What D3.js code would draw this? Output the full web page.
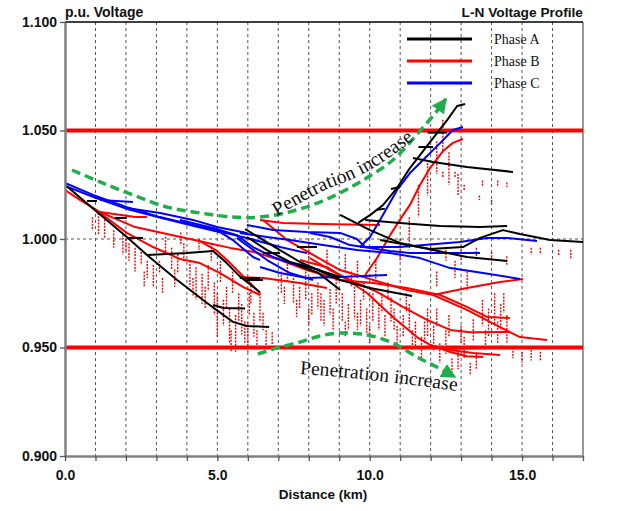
<!DOCTYPE html>
<html>
<head>
<meta charset="utf-8">
<script src="https://cdn.jsdelivr.net/npm/d3@7"></script>
<style>
  body { margin: 0; background: #fff; }
  svg { display: block; font-family: 'Liberation Sans', Arial, sans-serif; }
  .serif { font-family: 'Liberation Serif', 'Times New Roman', serif; }
</style>
</head>
<body>
<div id="chart-area"></div>
<script>
// set margins, width/height
const margin = { left: 65, right: 40, top: 22, bottom: 55 };
const width = 623 - margin.left - margin.right;
const height = 511 - margin.top - margin.bottom;

// axis values
const yTicks = [0.9, 0.95, 1.0, 1.05, 1.1];
const xLabels = [0, 5, 10, 15];
const kmTicks = [0, 1, 2, 3, 4, 5, 6, 7, 8, 9, 10, 11, 12, 13, 14, 15, 16, 17];
const limits = [0.95, 1.05];

const phaseNames = ['Phase A', 'Phase B', 'Phase C'];
const phaseColors = ['#000000', '#ff0000', '#0000ff'];

// feeder branches, [km, p.u.]
const phaseA = [
  [[0, 1.025], [1.05, 1.0124], [2.03, 1.0009], [2.69, 0.9926], [3.68, 0.9811], [4.66, 0.9705], [5.51, 0.9618], [5.97, 0.9599], [6.7, 0.9594]],
  [[4.86, 0.9696], [5.2, 0.9682], [5.91, 0.968]],
  [[2.69, 0.9926], [4.0, 0.9935], [4.86, 0.9945], [5.3, 0.989], [5.73, 0.9829], [6.4, 0.9755]],
  [[5.97, 0.9811], [6.5, 0.9811]],
  [[0.72, 1.0175], [1.05, 1.0175]],
  [[1.64, 1.0097], [2.03, 1.0097]],
  [[2.07, 1.0005], [2.56, 1.0005]],
  [[5.74, 0.982], [6.4, 0.982]],
  [[5.91, 1.0046], [6.89, 0.9963], [7.71, 0.9894], [9.03, 0.9811], [10.01, 0.9774], [11.39, 0.9737]],
  [[5.97, 1.0009], [6.63, 0.9949], [7.38, 0.9894], [8.14, 0.9866], [9.03, 0.9825]],
  [[7.61, 0.988], [8.3, 0.9845], [9.03, 0.9765]],
  [[6.5, 0.9935], [7.06, 0.9935]],
  [[7.61, 0.9963], [8.27, 0.9963]],
  [[9.03, 1.0111], [10.01, 1.0041], [10.99, 0.9982], [12.08, 0.9949], [13.19, 0.9917], [14.51, 0.9899]],
  [[9.62, 1.0074], [10.01, 1.011], [10.44, 1.0157], [10.9, 1.0236], [11.32, 1.0327], [11.65, 1.0387], [12.08, 1.0465], [12.54, 1.0548], [12.87, 1.0613], [13.13, 1.0622]],
  [[10.2, 1.0134], [10.5, 1.014]],
  [[10.7, 1.023], [11.0, 1.024]],
  [[11.6, 1.0424], [12.08, 1.0424]],
  [[11.9, 1.049], [12.54, 1.049]],
  [[11.42, 1.0373], [12.08, 1.0355], [13.19, 1.0332], [14.7, 1.0309]],
  [[9.85, 1.0088], [10.99, 1.0074], [12.31, 1.006], [13.62, 1.0055], [14.51, 1.006]],
  [[10.34, 0.9995], [11.98, 0.9954], [13.06, 0.9963], [13.62, 1.0005], [14.37, 1.0041], [14.93, 1.0023], [15.92, 0.9995], [17.0, 0.9986]]
];

const phaseB = [
  [[0, 1.0226], [0.49, 1.018], [1.15, 1.0124], [2.3, 1.0055], [3.35, 1.0023], [4.43, 0.999], [5.42, 0.9959], [6.2, 0.994], [7.06, 0.9903], [7.94, 0.9857]],
  [[1.15, 1.0124], [2.3, 1.0101], [2.69, 1.0101]],
  [[1.15, 1.012], [2.03, 1.0028], [2.89, 0.9963], [3.77, 0.9908], [4.43, 0.9889], [5.09, 0.9843], [5.84, 0.9779], [6.4, 0.9742]],
  [[4.43, 0.999], [4.99, 0.9945], [5.42, 0.9889], [5.97, 0.9811], [6.4, 0.9751]],
  [[5.74, 0.9825], [6.5, 0.982], [7.71, 0.9797], [8.6, 0.9774]],
  [[6.4, 1.0088], [7.15, 1.0074], [8.37, 1.0069], [10.34, 1.0065]],
  [[6.5, 1.0088], [7.29, 0.9995], [8.27, 0.9917], [9.03, 0.9857], [9.58, 0.9834], [10.44, 0.9797], [11.22, 0.9765], [12.08, 0.9742], [13.19, 0.9673], [14.28, 0.9594], [14.93, 0.9548], [15.82, 0.9535]],
  [[12.08, 0.9742], [13.19, 0.9774], [14.28, 0.9802], [15.03, 0.9816]],
  [[8.04, 0.9912], [8.7, 0.9857], [9.35, 0.9811], [10.24, 0.9756], [11.09, 0.9687], [11.88, 0.9627], [12.64, 0.9581], [13.3, 0.957], [14.6, 0.9571]],
  [[7.94, 0.9857], [9.03, 0.9811], [10.11, 0.9797], [11.22, 0.9774], [12.31, 0.9742], [13.19, 0.9687], [13.85, 0.9641], [14.6, 0.9636]],
  [[7.71, 0.9903], [8.6, 0.987], [9.12, 0.9825], [9.91, 0.9751], [10.76, 0.9641], [11.55, 0.9548], [11.98, 0.9512], [12.64, 0.9488], [13.39, 0.9475], [14.28, 0.9465]],
  [[11.98, 0.9512], [12.64, 0.9479], [13.19, 0.946], [13.72, 0.9456]],
  [[12.0, 0.95], [13.0, 0.9495], [14.0, 0.9498], [14.37, 0.9505]],
  [[9.85, 0.9834], [10.24, 0.9912], [10.67, 1.0018], [10.99, 1.0088], [11.32, 1.0157], [11.65, 1.0249], [11.98, 1.0327], [12.41, 1.0406], [12.73, 1.0443], [13.06, 1.0461]]
];

const phaseC = [
  [[0, 1.0258], [0.92, 1.0203], [2.03, 1.0147], [3.12, 1.0101], [4.2, 1.0065], [4.99, 1.0041], [5.51, 0.9995], [6.17, 0.9917], [6.4, 0.9903]],
  [[0, 1.0245], [1.0, 1.019], [2.1, 1.0136], [3.2, 1.0095], [4.3, 1.0058], [5.2, 1.0028]],
  [[1.15, 1.018], [2.23, 1.0171]],
  [[2.03, 1.0143], [3.12, 1.012], [4.2, 1.0088], [4.99, 1.0055], [5.97, 1.0028]],
  [[3.77, 1.0088], [4.86, 1.0051], [5.64, 1.0018], [6.17, 0.9963], [6.83, 0.9917], [7.38, 0.9889], [8.37, 0.9857]],
  [[4.86, 1.0041], [5.97, 1.0005], [7.06, 0.9963], [7.94, 0.9935]],
  [[5.64, 1.0005], [6.63, 0.9903], [7.38, 0.9843], [8.14, 0.9811]],
  [[5.97, 1.0065], [6.83, 1.0041], [7.94, 1.0032], [9.03, 1.0028], [9.58, 1.0], [9.85, 0.9963]],
  [[5.74, 1.0028], [6.63, 1.0009], [7.38, 0.9995], [8.47, 0.9972], [9.58, 0.9949], [10.67, 0.9935], [11.65, 0.9912], [12.64, 0.9866], [13.72, 0.9843], [14.93, 0.9816]],
  [[6.4, 0.9871], [7.06, 0.9843], [7.94, 0.982], [9.03, 0.9825], [10.57, 0.9834]],
  [[8.04, 1.0028], [8.7, 1.0009], [9.35, 0.9972], [10.01, 0.9959], [10.67, 0.9945], [11.32, 0.9935], [12.31, 0.9935], [13.62, 0.9935]],
  [[9.68, 0.9963], [10.99, 0.9963], [12.96, 0.9986], [13.85, 1.0005], [14.51, 1.0005], [15.49, 0.9991]],
  [[9.68, 0.9963], [10.01, 1.0009], [10.34, 1.0088], [10.9, 1.0226], [11.32, 1.0304], [11.75, 1.0364], [12.31, 1.0442], [12.73, 1.0502], [13.06, 1.0516]]
];

// dotted customer drops of phase B, [km, top p.u., bottom p.u.]
const redDrops = [
  [0.9, 1.01, 1.004], [1.1, 1.012, 1.002], [1.3, 1.009, 1.0], [1.6, 1.004, 0.996], [2.0, 1.0, 0.994],
  [1.9, 1.002, 0.993], [2.1, 0.998, 0.99], [2.3, 0.996, 0.985], [2.5, 0.994, 0.988], [2.7, 0.99, 0.982],
  [2.6, 0.985, 0.978], [3.2, 0.982, 0.975],
  [2.9, 0.988, 0.978], [3.1, 0.99, 0.984], [3.3, 1.001, 0.994],
  [3.5, 0.996, 0.986], [3.7, 0.993, 0.984], [3.9, 0.998, 0.99], [4.1, 0.99, 0.978], [4.3, 0.987, 0.972],
  [4.5, 0.984, 0.97], [4.7, 0.988, 0.976], [4.9, 0.98, 0.965], [4.6, 0.978, 0.968], [4.2, 0.982, 0.974], [3.6, 0.986, 0.978],
  [5.0, 0.975, 0.955], [5.2, 0.972, 0.96], [5.4, 0.968, 0.952], [5.6, 0.965, 0.948], [5.8, 0.97, 0.956],
  [6.0, 0.962, 0.948], [6.2, 0.966, 0.955], [6.4, 0.975, 0.962], [6.6, 0.958, 0.951], [6.8, 0.957, 0.951],
  [5.3, 0.978, 0.968], [5.7, 0.975, 0.962], [5.9, 0.962, 0.952], [6.3, 0.958, 0.95], [6.5, 0.966, 0.958],
  [5.45, 0.958, 0.948], [6.05, 0.975, 0.965],
  [5.1, 0.99, 0.98], [5.5, 0.985, 0.975], [6.1, 0.98, 0.97], [4.4, 1.0, 0.995], [3.8, 1.003, 0.997], [4.8, 0.998, 0.99],
  [7.1, 0.985, 0.975], [7.3, 0.99, 0.98], [7.5, 0.982, 0.97], [7.7, 0.978, 0.968], [7.9, 0.985, 0.972],
  [8.1, 0.975, 0.965], [8.3, 0.98, 0.968], [8.5, 0.972, 0.96], [8.7, 0.977, 0.965], [8.9, 0.983, 0.97],
  [9.1, 0.975, 0.962], [9.3, 0.97, 0.958], [9.5, 0.978, 0.963], [9.7, 0.972, 0.96], [9.9, 0.968, 0.956],
  [10.1, 0.975, 0.962], [10.3, 0.97, 0.958], [10.5, 0.965, 0.955], [10.7, 0.973, 0.962], [10.9, 0.96, 0.95],
  [7.2, 0.978, 0.97], [7.6, 0.972, 0.964], [8.0, 0.968, 0.96], [8.4, 0.975, 0.962], [8.8, 0.968, 0.958],
  [9.2, 0.962, 0.955], [9.6, 0.966, 0.958], [10.0, 0.96, 0.952], [10.4, 0.975, 0.966], [10.8, 0.968, 0.958],
  [9.4, 0.985, 0.978], [9.8, 0.98, 0.972], [10.6, 0.98, 0.972], [11.2, 0.975, 0.966],
  [8.0, 0.998, 0.99], [8.6, 0.995, 0.988], [9.2, 0.993, 0.985], [9.6, 0.99, 0.982], [10.2, 0.99, 0.98],
  [11.1, 0.965, 0.955], [11.3, 0.97, 0.958], [11.5, 0.962, 0.95], [11.7, 0.955, 0.945], [11.9, 0.968, 0.955],
  [12.1, 0.96, 0.948], [12.3, 0.952, 0.943], [12.5, 0.958, 0.947], [12.7, 0.945, 0.938], [12.9, 0.948, 0.94],
  [13.1, 0.955, 0.945], [13.3, 0.943, 0.937], [13.5, 0.947, 0.94],
  [11.4, 0.958, 0.949], [11.8, 0.962, 0.952], [12.2, 0.968, 0.96], [12.6, 0.965, 0.955], [13.0, 0.96, 0.952],
  [13.4, 0.963, 0.953], [13.8, 0.958, 0.95], [14.2, 0.962, 0.952], [14.4, 0.975, 0.966],
  [13.2, 0.985, 0.976], [12.8, 0.99, 0.982], [12.2, 0.985, 0.978],
  [13.7, 0.972, 0.96], [13.9, 0.968, 0.955], [14.1, 0.975, 0.96], [14.3, 0.97, 0.958], [14.5, 0.965, 0.952],
  [14.7, 0.95, 0.945], [15.0, 0.948, 0.943], [15.3, 0.949, 0.944], [15.6, 0.948, 0.944],
  [12.0, 0.998, 0.993], [12.5, 0.995, 0.99], [13.0, 0.997, 0.99], [13.5, 0.996, 0.99], [14.0, 0.994, 0.99],
  [14.5, 0.992, 0.988], [15.3, 0.996, 0.993], [15.6, 0.996, 0.993], [16.2, 0.995, 0.992], [16.6, 0.995, 0.991],
  [11.0, 1.0, 0.99], [11.3, 1.01, 0.995], [11.6, 1.025, 1.01], [11.9, 1.035, 1.02], [12.2, 1.045, 1.03],
  [12.4, 1.055, 1.04], [12.6, 1.04, 1.025], [12.9, 1.03, 1.02], [13.1, 1.025, 1.022], [13.6, 1.02, 1.018], [14.0, 1.018, 1.016],
  [12.4, 1.031, 1.028], [12.8, 1.031, 1.028], [13.7, 1.027, 1.024], [14.2, 1.027, 1.024], [14.5, 1.026, 1.024]
];

// annotation arrows and their text baselines, [km, p.u.]
const arrowUp = [[0.23, 1.0318], [1.15, 1.0263], [2.23, 1.0203], [3.35, 1.0147], [4.43, 1.012], [5.51, 1.0101], [6.4, 1.0101], [7.48, 1.0129], [8.6, 1.0184], [9.68, 1.0263], [10.76, 1.0364], [11.65, 1.0498], [12.18, 1.0585], [12.5, 1.0645]];
const arrowDown = [[6.33, 0.947], [6.96, 0.9498], [7.71, 0.9525], [8.37, 0.9553], [9.03, 0.9567], [9.91, 0.9558], [10.76, 0.9521], [11.55, 0.9456], [12.08, 0.9419], [12.8, 0.9364]];
const textUp = [[6.96, 1.0106], [7.71, 1.0166], [8.6, 1.023], [9.35, 1.0272], [10.01, 1.0318], [10.67, 1.0378], [11.42, 1.0456], [11.8, 1.05]];
const textDown = [[7.71, 0.9378], [9.03, 0.9364], [10.57, 0.9341], [11.65, 0.9323], [12.8, 0.93], [13.2, 0.929]];
const annotation = 'Penetration increase';

const svg = d3
  .select('#chart-area')
  .append('svg')
  .attr('width', 623)
  .attr('height', 511);

const g = svg
  .append('g')
  .attr('transform', `translate(${margin.left}, ${margin.top})`);

// Scales
const x = d3.scaleLinear().domain([0, 17]).range([0, width]);
const y = d3.scaleLinear().domain([0.9, 1.1]).range([height, 0]);

const line = d3
  .line()
  .x((d) => x(d[0]))
  .y((d) => y(d[1]));
const curve = d3
  .line()
  .curve(d3.curveCatmullRom)
  .x((d) => x(d[0]))
  .y((d) => y(d[1]));

const defs = svg.append('defs');
defs
  .append('clipPath')
  .attr('id', 'plot-clip')
  .append('rect')
  .attr('width', width)
  .attr('height', height);
defs
  .append('marker')
  .attr('id', 'green-head')
  .attr('viewBox', '0 0 10 10')
  .attr('refX', 9)
  .attr('refY', 5)
  .attr('markerUnits', 'userSpaceOnUse')
  .attr('markerWidth', 15)
  .attr('markerHeight', 15)
  .attr('orient', 'auto')
  .append('path')
  .attr('d', 'M0,0L10,5L0,10z')
  .attr('fill', '#1fae4b');

// grid lines
g.append('g')
  .selectAll('line')
  .data(kmTicks.filter((d) => d > 0 && d < 17))
  .enter()
  .append('line')
  .attr('x1', (d) => x(d))
  .attr('x2', (d) => x(d))
  .attr('y1', 0)
  .attr('y2', height)
  .attr('stroke', '#555')
  .attr('stroke-width', 1)
  .attr('stroke-dasharray', '3,3');

g.append('g')
  .selectAll('line')
  .data(yTicks.filter((d) => d > 0.9 && d < 1.1))
  .enter()
  .append('line')
  .attr('x1', 0)
  .attr('x2', width)
  .attr('y1', (d) => y(d))
  .attr('y2', (d) => y(d))
  .attr('stroke', '#555')
  .attr('stroke-width', 1)
  .attr('stroke-dasharray', '3,3');

// frame top and right
g.append('line')
  .attr('x1', 0)
  .attr('x2', width)
  .attr('y1', 0)
  .attr('y2', 0)
  .attr('stroke', '#000')
  .attr('stroke-width', 1.5);
g.append('line')
  .attr('x1', width)
  .attr('x2', width)
  .attr('y1', 0)
  .attr('y2', height)
  .attr('stroke', '#333')
  .attr('stroke-width', 1);

// voltage limits
g.append('g')
  .selectAll('line')
  .data(limits)
  .enter()
  .append('line')
  .attr('x1', 0)
  .attr('x2', width)
  .attr('y1', (d) => y(d))
  .attr('y2', (d) => y(d))
  .attr('stroke', '#ff0000')
  .attr('stroke-width', 4);

const plot = g.append('g').attr('clip-path', 'url(#plot-clip)');

plot
  .append('g')
  .selectAll('line')
  .data(redDrops)
  .enter()
  .append('line')
  .attr('x1', (d) => x(d[0]))
  .attr('x2', (d) => x(d[0]))
  .attr('y1', (d) => y(d[1]))
  .attr('y2', (d) => y(d[2]))
  .attr('stroke', '#ff0000')
  .attr('stroke-width', 1.4)
  .attr('stroke-dasharray', '2,1.2');

[phaseB, phaseC, phaseA].forEach((phase) => {
  const color = phaseColors[[phaseA, phaseB, phaseC].indexOf(phase)];
  plot
    .append('g')
    .selectAll('path')
    .data(phase)
    .enter()
    .append('path')
    .attr('fill', 'none')
    .attr('stroke', color)
    .attr('stroke-width', 2)
    .attr('stroke-linejoin', 'round')
    .attr('d', (d) => line(d));
});

// Axes
const yAxisCall = d3
  .axisLeft(y)
  .tickValues(yTicks)
  .tickFormat(d3.format('.3f'))
  .tickSizeInner(5)
  .tickSizeOuter(0)
  .tickPadding(3);
const xAxisCall = d3
  .axisBottom(x)
  .tickValues(kmTicks)
  .tickFormat((d) => (xLabels.includes(d) ? d3.format('.1f')(d) : ''))
  .tickSizeInner(5)
  .tickSizeOuter(0)
  .tickPadding(9);

const yAxis = g.append('g').attr('class', 'y axis').call(yAxisCall);
const xAxis = g
  .append('g')
  .attr('class', 'x axis')
  .attr('transform', `translate(0, ${height})`)
  .call(xAxisCall);

[xAxis, yAxis].forEach((ax) => {
  ax.select('.domain').attr('stroke', '#808080').attr('stroke-width', 2.5);
  ax.selectAll('.tick line').attr('stroke', '#555').attr('stroke-width', 1.3);
  ax.selectAll('.tick text')
    .attr('fill', '#111')
    .attr('font-family', "'Liberation Sans', Arial, sans-serif")
    .attr('font-size', 14)
    .attr('font-weight', 'bold');
});

// Titles
svg.append('text')
  .attr('x', margin.left)
  .attr('y', 17)
  .attr('font-size', 14)
  .attr('font-weight', 'bold')
  .attr('fill', '#111')
  .text('p.u. Voltage');
svg.append('text')
  .attr('x', margin.left + width)
  .attr('y', 17)
  .attr('text-anchor', 'end')
  .attr('font-size', 13.7)
  .attr('font-weight', 'bold')
  .attr('fill', '#111')
  .text('L-N Voltage Profile');
svg.append('text')
  .attr('x', 323)
  .attr('y', 499)
  .attr('text-anchor', 'middle')
  .attr('font-size', 13.5)
  .attr('font-weight', 'bold')
  .attr('fill', '#111')
  .text('Distance (km)');

// Legend top-right
const legend = g.append('g').attr('transform', `translate(${width - 176}, 17)`);
phaseNames.forEach((name, i) => {
  legend
    .append('line')
    .attr('x1', 0)
    .attr('x2', 65)
    .attr('y1', i * 22)
    .attr('y2', i * 22)
    .attr('stroke', phaseColors[i])
    .attr('stroke-width', 3);
  legend
    .append('text')
    .attr('class', 'serif')
    .attr('x', 87)
    .attr('y', i * 22 + 5)
    .attr('font-size', 14)
    .attr('fill', '#111')
    .text(name);
});

// green arrows and text
[arrowUp, arrowDown].forEach((pts) => {
  g.append('path')
    .attr('fill', 'none')
    .attr('stroke', '#1fae4b')
    .attr('stroke-width', 3.5)
    .attr('stroke-dasharray', '9,5')
    .attr('marker-end', 'url(#green-head)')
    .attr('d', curve(pts));
});

[textUp, textDown].forEach((pts, i) => {
  defs.append('path').attr('id', `text-path-${i}`).attr('d', curve(pts));
  g.append('text')
    .attr('class', 'serif')
    .attr('font-size', 19.5)
    .attr('fill', '#111')
    .append('textPath')
    .attr('href', `#text-path-${i}`)
    .text(annotation);
});
</script>
</body>
</html>
